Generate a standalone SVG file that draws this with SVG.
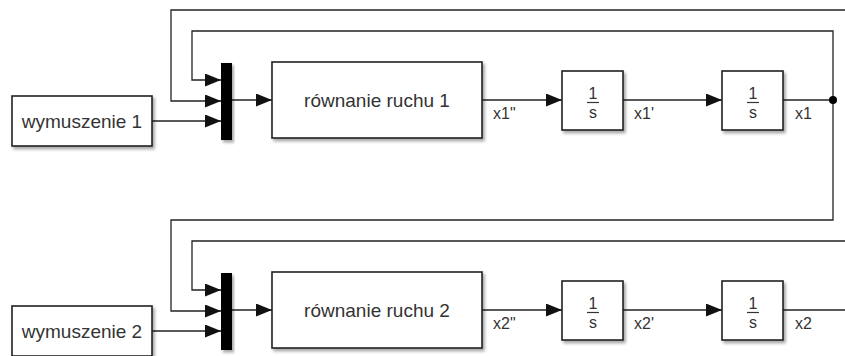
<svg xmlns="http://www.w3.org/2000/svg" width="845" height="356" viewBox="0 0 845 356">
<defs>
<filter id="sh" x="-10%" y="-10%" width="130%" height="130%">
<feDropShadow dx="2" dy="2.5" stdDeviation="1.5" flood-color="#000" flood-opacity="0.35"/>
</filter>
<marker id="ah" markerUnits="userSpaceOnUse" markerWidth="16" markerHeight="14" refX="16" refY="6.5" orient="auto">
<path d="M0,0 L16,6.5 L0,13 z" fill="#111"/>
</marker>
<style>
.blk{fill:#fff;stroke:#222;stroke-width:1.6;filter:url(#sh)}
.mux{fill:#000;filter:url(#sh)}
.ln{fill:none;stroke:#222;stroke-width:1.3}
.ar{marker-end:url(#ah)}
.t{font-family:"Liberation Sans",Arial,sans-serif;fill:#333;text-anchor:middle}
.big{font-size:19px}
.lb{font-family:"Liberation Sans",Arial,sans-serif;fill:#333;font-size:16px}
.fr{font-size:16px}
</style>
</defs>
<rect width="845" height="356" fill="#fff"/>
<g id="connectors">
<path class="ln ar" d="M152,121 H221"/>
<path class="ln ar" d="M845,10 H171 V101 H221"/>
<path class="ln" d="M783,100 H833"/>
<path class="ln ar" d="M833,100 V31 H192 V80 H221"/>
<path class="ln ar" d="M833,100 V220 H171 V311 H221"/>
<path class="ln ar" d="M232,100 H272"/>
<path class="ln ar" d="M482,100 H562"/>
<path class="ln ar" d="M623,100 H722"/>
<circle cx="833" cy="100" r="4" fill="#000"/>
<path class="ln ar" d="M152,331 H221"/>
<path class="ln ar" d="M845,241 H192 V290 H221"/>
<path class="ln ar" d="M232,310 H272"/>
<path class="ln ar" d="M482,310 H562"/>
<path class="ln ar" d="M623,310 H722"/>
<path class="ln" d="M783,310 H845"/>
<text class="lb" x="493" y="119">x1"</text>
<text class="lb" x="634" y="119">x1'</text>
<text class="lb" x="795" y="119">x1</text>
<text class="lb" x="493" y="329">x2"</text>
<text class="lb" x="634" y="329">x2'</text>
<text class="lb" x="795" y="329">x2</text>
</g>
<g id="wymuszenie1">
<rect class="blk" x="12" y="96" width="140" height="50"/>
<text class="t big" x="82" y="128">wymuszenie 1</text>
</g>
<g id="mux1"><rect class="mux" x="221" y="63" width="11" height="77"/></g>
<g id="rownanie1">
<rect class="blk" x="272" y="62" width="210" height="76"/>
<text class="t big" x="377" y="107">równanie ruchu 1</text>
</g>
<g id="int1a">
<rect class="blk" x="562" y="71" width="61" height="59"/>
<text class="t fr" x="593" y="99">1</text>
<line x1="587" y1="102.5" x2="599" y2="102.5" stroke="#333" stroke-width="1.2"/>
<text class="t fr" x="593" y="118">s</text>
</g>
<g id="int1b">
<rect class="blk" x="722" y="71" width="61" height="59"/>
<text class="t fr" x="753" y="99">1</text>
<line x1="747" y1="102.5" x2="759" y2="102.5" stroke="#333" stroke-width="1.2"/>
<text class="t fr" x="753" y="118">s</text>
</g>
<g id="wymuszenie2">
<rect class="blk" x="12" y="306" width="140" height="50"/>
<text class="t big" x="82" y="338">wymuszenie 2</text>
</g>
<g id="mux2"><rect class="mux" x="221" y="273" width="11" height="77"/></g>
<g id="rownanie2">
<rect class="blk" x="272" y="272" width="210" height="76"/>
<text class="t big" x="377" y="317">równanie ruchu 2</text>
</g>
<g id="int2a">
<rect class="blk" x="562" y="281" width="61" height="59"/>
<text class="t fr" x="593" y="309">1</text>
<line x1="587" y1="312.5" x2="599" y2="312.5" stroke="#333" stroke-width="1.2"/>
<text class="t fr" x="593" y="328">s</text>
</g>
<g id="int2b">
<rect class="blk" x="722" y="281" width="61" height="59"/>
<text class="t fr" x="753" y="309">1</text>
<line x1="747" y1="312.5" x2="759" y2="312.5" stroke="#333" stroke-width="1.2"/>
<text class="t fr" x="753" y="328">s</text>
</g>
</svg>
